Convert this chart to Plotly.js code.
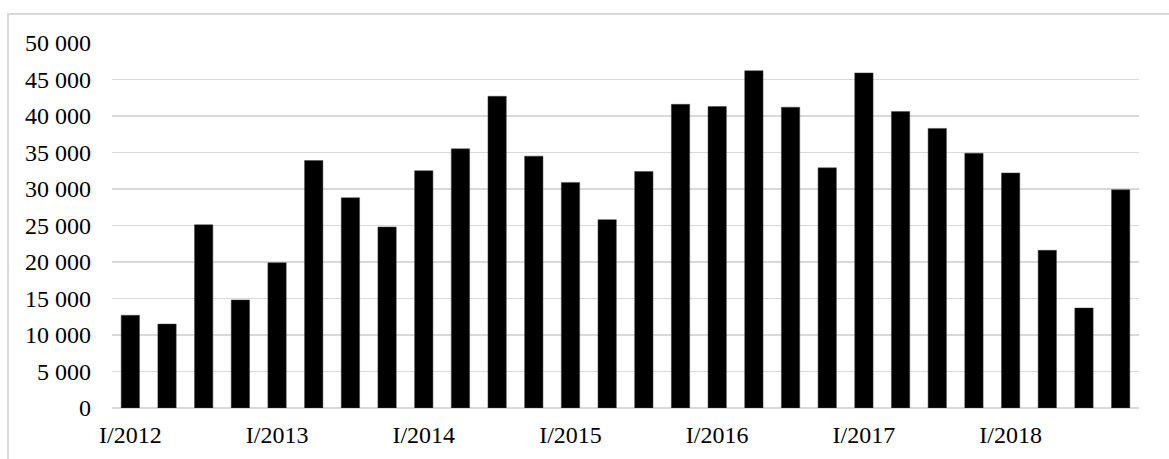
<!DOCTYPE html>
<html>
<head>
<meta charset="utf-8">
<script src="https://cdn.plot.ly/plotly-3.0.1.min.js"></script>
<style>
  html, body { margin: 0; padding: 0; background: #fff; }
  #wrap { position: relative; width: 1169px; height: 459px; overflow: hidden; }
  #chart { position: absolute; left: 0; top: 0; width: 1169px; height: 459px; }
  #frame { position: absolute; left: 7px; top: 13px; width: 1200px; height: 500px;
           border-left: 2px solid #d9d9d9; border-top: 2px solid #d9d9d9; pointer-events: none; }
</style>
</head>
<body>
<div id="wrap">
  <div id="chart"></div>
  <div id="frame"></div>
</div>
<script>
// Quarters I/2012 .. IV/2018
const quarters = [
  "I/2012","II/2012","III/2012","IV/2012",
  "I/2013","II/2013","III/2013","IV/2013",
  "I/2014","II/2014","III/2014","IV/2014",
  "I/2015","II/2015","III/2015","IV/2015",
  "I/2016","II/2016","III/2016","IV/2016",
  "I/2017","II/2017","III/2017","IV/2017",
  "I/2018","II/2018","III/2018","IV/2018"
];
const values = [
  12700, 11500, 25100, 14800,
  19900, 33900, 28800, 24800,
  32500, 35500, 42700, 34500,
  30900, 25800, 32400, 41600,
  41300, 46200, 41200, 32900,
  45900, 40600, 38300, 34900,
  32200, 21600, 13700, 29900
];
const xTickLabels = ["I/2012","I/2013","I/2014","I/2015","I/2016","I/2017","I/2018"];
const yTickValues = [0,5000,10000,15000,20000,25000,30000,35000,40000,45000,50000];

const trace = {
  type: 'bar',
  x: quarters,
  y: values,
  marker: { color: '#000000', line: { color: '#444444', width: 0.5 } },
  hoverinfo: 'x+y'
};

const font = { family: '"Liberation Serif", "Times New Roman", serif', size: 24, color: '#000' };

const layout = {
  width: 1169,
  height: 459,
  margin: { l: 112, r: 30, t: 43, b: 51 },
  paper_bgcolor: 'rgba(0,0,0,0)',
  plot_bgcolor: 'rgba(0,0,0,0)',
  separators: ', ',
  font: font,
  bargap: 0.5,
  showlegend: false,
  xaxis: {
    type: 'category',
    tickmode: 'array',
    tickvals: xTickLabels,
    ticktext: xTickLabels,
    showgrid: false,
    showline: false,
    zeroline: false,
    ticks: '',
    tickfont: font,
    ticklabelstandoff: 10
  },
  yaxis: {
    range: [0, 50000],
    tickmode: 'array',
    tickvals: yTickValues,
    tickformat: ',d',
    showgrid: true,
    gridcolor: '#d9d9d9',
    gridwidth: 1.5,
    zeroline: true,
    zerolinecolor: '#d9d9d9',
    zerolinewidth: 1.5,
    showline: false,
    ticks: '',
    tickfont: font,
    ticklabelstandoff: 20
  }
};

Plotly.newPlot('chart', [trace], layout, { displayModeBar: false, staticPlot: true });
</script>
</body>
</html>
